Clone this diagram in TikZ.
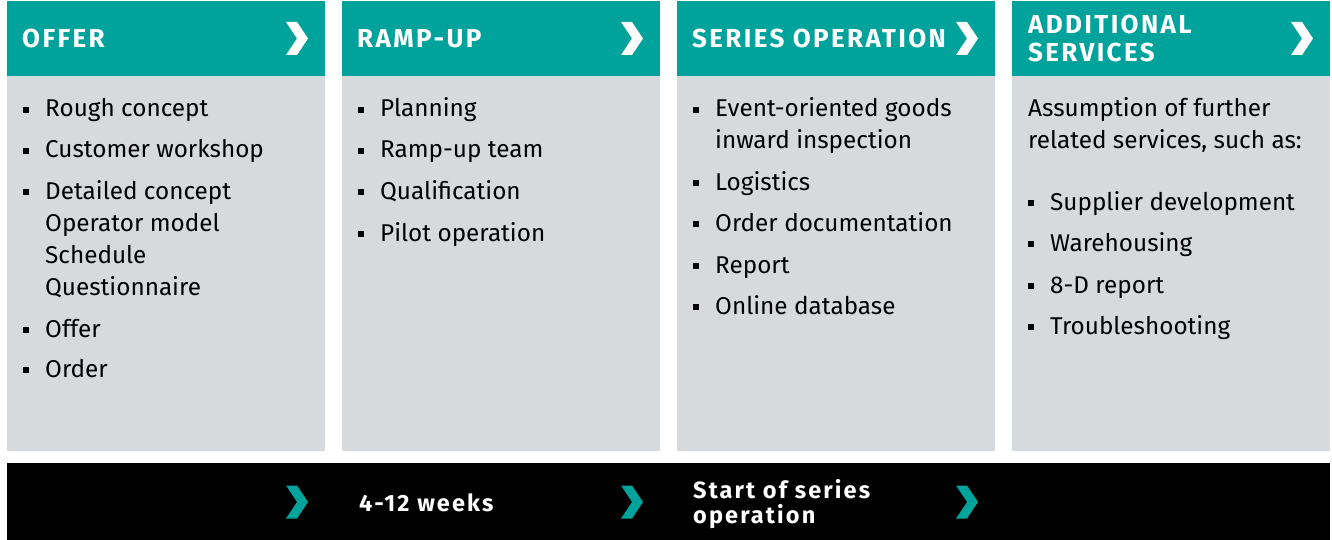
\documentclass[tikz,border=0pt]{standalone}
\usepackage{fontspec}
\setmainfont{Fira Sans}
\definecolor{headteal}{RGB}{0,163,155}
\definecolor{bodygray}{RGB}{215,218,221}
\tikzset{
  head/.style={fill=headteal, anchor=north west, inner sep=0pt, minimum width=317.5pt, minimum height=75pt},
  body/.style={fill=bodygray, anchor=north west, inner sep=0pt, minimum width=317.5pt, minimum height=375pt},
  headtext/.style={anchor=base west, inner sep=0pt, text=white, font=\fontsize{26}{28}\selectfont\bfseries\addfontfeature{LetterSpace=9}},
  item/.style={anchor=base west, inner sep=0pt, font=\fontsize{24.3}{32}\selectfont},
  bartext/.style={anchor=base west, inner sep=0pt, text=white, font=\fontsize{23.5}{25}\selectfont\bfseries\addfontfeature{LetterSpace=9}},
}
\newcommand{\chevron}[2]{\fill[#1, shift={(#2)}] (-11,-16.5) -- (0,-16.5) -- (11,0) -- (0,16.5) -- (-11,16.5) -- (0,0) -- cycle;}
\begin{document}
\begin{tikzpicture}[x=1pt, y=-1pt]
\useasboundingbox (0,0) rectangle (1332,540);
%columns
\foreach \i/\x in {1/7, 2/342, 3/677, 4/1012} {
  \node[head] (h\i) at (\x,1) {};
  \node[body] (b\i) at (\x,76) {};
}
%bottom bar
\node[fill=black, anchor=north west, inner sep=0pt, minimum width=1323pt, minimum height=77pt] (bar) at (7,463) {};
%header texts
\node[headtext] (t1) at (22,48) {OFFER};
\node[headtext] (t2) at (357,48) {RAMP-UP};
\node[headtext] (t3) at (692,48) {SERIES OPERATION};
\node[headtext] (t4a) at (1028,34) {ADDITIONAL};
\node[headtext] (t4b) at (1028,62) {SERVICES};
\foreach \x in {297, 632, 967, 1302} {\chevron{white}{\x,38.5}}
%offer
\foreach \y/\b/\t in {117/1/Rough concept, 158/1/Customer workshop, 199/1/Detailed concept,
    231/0/Operator model, 263/0/Schedule, 295/0/Questionnaire, 337/1/Offer, 377/1/Order} {
  \node[item] (o\y) at (45,\y) {\t};
  \ifnum\b=1 \fill (23,\y-4) rectangle ++(6,-6); \fi
}
%ramp-up
\foreach \y/\t in {117/Planning, 158/Ramp-up team, 199/Qualification, 241/Pilot operation} {
  \node[item] (r\y) at (380,\y) {\t};
  \fill (358,\y-4) rectangle ++(6,-6);
}
%series operation
\foreach \y/\b/\t in {117/1/Event-oriented goods, 149/0/inward inspection, 190/1/Logistics,
    231/1/Order documentation, 273/1/Report, 314/1/Online database} {
  \node[item] (s\y) at (715,\y) {\t};
  \ifnum\b=1 \fill (693,\y-4) rectangle ++(6,-6); \fi
}
%additional services
\node[item] (a1) at (1028,117) {Assumption of further};
\node[item] (a2) at (1028,149) {related services, such as:};
\foreach \y/\t in {210/Supplier development, 251/Warehousing, 293/8-D report, 334/Troubleshooting} {
  \node[item] (a\y) at (1050,\y) {\t};
  \fill (1028,\y-4) rectangle ++(6,-6);
}
%bar texts
\foreach \x in {297, 632, 967} {\chevron{headteal}{\x,502}}
\node[bartext] (w) at (359,511) {4-12 weeks};
\node[bartext] (st1) at (693,498) {Start of series};
\node[bartext] (st2) at (693,523) {operation};
\end{tikzpicture}
\end{document}
